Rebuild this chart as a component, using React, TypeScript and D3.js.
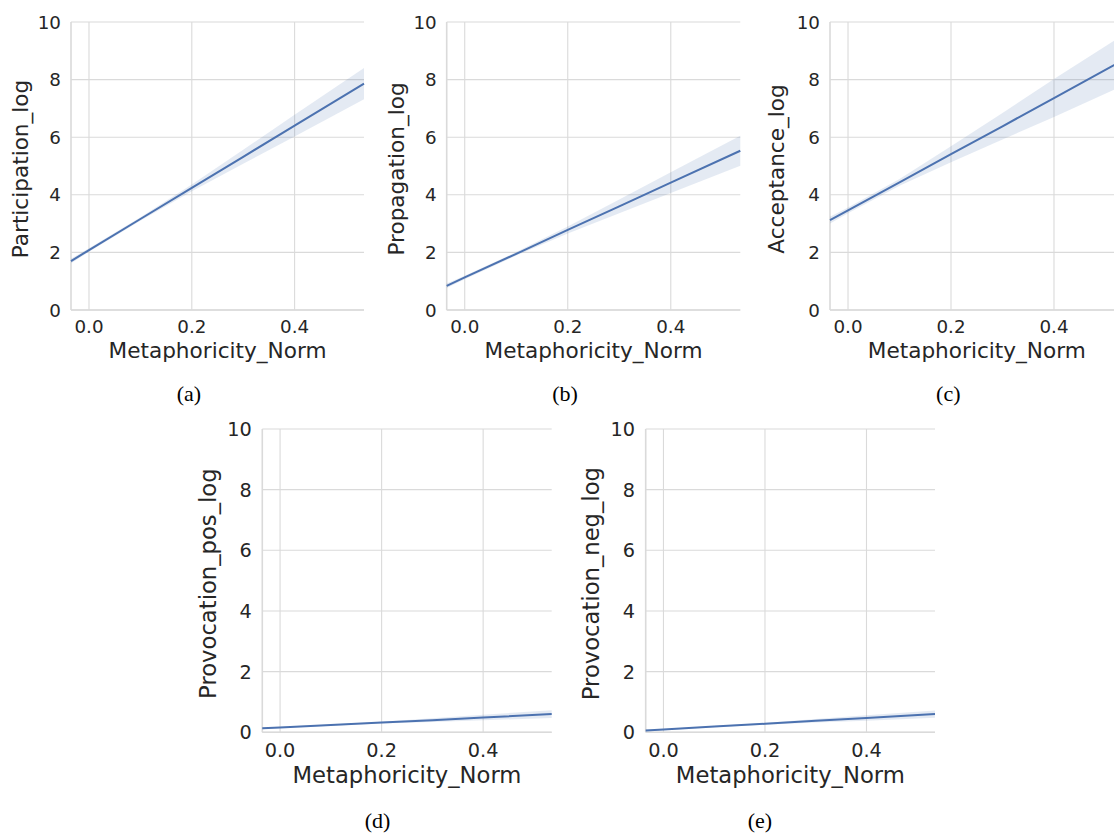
import React from 'react';
import * as d3 from 'd3';

// ---------- data ----------
const xPoints = [-0.035, 0.0, 0.1, 0.2, 0.3, 0.4, 0.535];
const xTicks = [0.0, 0.2, 0.4];
const yTicks = [0, 2, 4, 6, 8, 10];
const xDomain: [number, number] = [-0.035, 0.535];
const yDomain: [number, number] = [0, 10];
const xLabel = 'Metaphoricity_Norm';
const yLabels = ['Participation_log', 'Propagation_log', 'Acceptance_log', 'Provocation_pos_log', 'Provocation_neg_log'];
const captions = ['(a)', '(b)', '(c)', '(d)', '(e)'];

const participationFit = [1.70, 2.08, 3.16, 4.24, 5.32, 6.40, 7.86];
const participationHalfCI = [0.08, 0.06, 0.06, 0.12, 0.24, 0.38, 0.54];
const propagationFit = [0.84, 1.13, 1.95, 2.78, 3.60, 4.42, 5.53];
const propagationHalfCI = [0.08, 0.06, 0.06, 0.12, 0.24, 0.36, 0.52];
const acceptanceFit = [3.12, 3.46, 4.43, 5.41, 6.38, 7.36, 8.68];
const acceptanceHalfCI = [0.12, 0.10, 0.12, 0.28, 0.46, 0.66, 0.88];
const provPosFit = [0.13, 0.16, 0.24, 0.32, 0.40, 0.49, 0.60];
const provPosHalfCI = [0.03, 0.02, 0.02, 0.03, 0.06, 0.09, 0.13];
const provNegFit = [0.06, 0.09, 0.19, 0.28, 0.38, 0.47, 0.60];
const provNegHalfCI = [0.03, 0.02, 0.02, 0.03, 0.06, 0.09, 0.12];

const fits = [participationFit, propagationFit, acceptanceFit, provPosFit, provNegFit];
const halfCIs = [participationHalfCI, propagationHalfCI, acceptanceHalfCI, provPosHalfCI, provNegHalfCI];

// ---------- layout ----------
const layouts = [
  { left: 71, right: 364, top: 22, bottom: 310, tick: 18.3, label: 21.6, ylabOff: 42.6, capX: 189, capY: 401 },
  { left: 446.7, right: 740.3, top: 22, bottom: 310, tick: 18.3, label: 21.6, ylabOff: 42.7, capX: 565, capY: 401 },
  { left: 830, right: 1123.5, top: 22, bottom: 310, tick: 18.3, label: 21.6, ylabOff: 46, capX: 948.3, capY: 401 },
  { left: 262.3, right: 551.7, top: 429, bottom: 732.3, tick: 19.3, label: 22.7, ylabOff: 46.6, capX: 377.5, capY: 828 },
  { left: 645.7, right: 935, top: 429, bottom: 732.3, tick: 19.3, label: 22.7, ylabOff: 46.7, capX: 760, capY: 828 },
];

const BLUE = '#4c72b0';
const GRID = '#dadada';
const TEXT = '#262626';
const SANS = "'DejaVu Sans', sans-serif";

function Panel({ i }: { i: number }) {
  const L = layouts[i];
  const x = d3.scaleLinear().domain(xDomain).range([L.left, L.right]);
  const y = d3.scaleLinear().domain(yDomain).range([L.bottom, L.top]);
  const pts = xPoints.map((xv, k) => ({ x: xv, fit: fits[i][k], h: halfCIs[i][k] }));
  const area = d3
    .area<{ x: number; fit: number; h: number }>()
    .x((d) => x(d.x))
    .y0((d) => y(d.fit - d.h))
    .y1((d) => y(d.fit + d.h));
  const line = d3
    .line<{ x: number; fit: number; h: number }>()
    .x((d) => x(d.x))
    .y((d) => y(d.fit));
  const fx = d3.format('.1f');
  const scale = L.tick / 18.3;
  const midY = (L.top + L.bottom) / 2;
  return (
    <g>
      {yTicks.map((t) => (
        <line key={'gy' + t} x1={L.left} x2={L.right} y1={y(t)} y2={y(t)} stroke={GRID} strokeWidth={1.1} />
      ))}
      {xTicks.map((t) => (
        <line key={'gx' + t} x1={x(t)} x2={x(t)} y1={L.top} y2={L.bottom} stroke={GRID} strokeWidth={1.1} />
      ))}
      <line x1={L.left} x2={L.left} y1={L.top} y2={L.bottom} stroke={GRID} strokeWidth={1.6} />
      <line x1={L.left} x2={L.right} y1={L.bottom} y2={L.bottom} stroke={GRID} strokeWidth={1.6} />
      <path d={area(pts) || ''} fill={BLUE} fillOpacity={0.15} />
      <path d={line(pts) || ''} fill="none" stroke={BLUE} strokeWidth={2} />
      {yTicks.map((t) => (
        <text
          key={'ty' + t}
          x={L.left - 10 * scale}
          y={y(t)}
          dy="0.36em"
          textAnchor="end"
          fontFamily={SANS}
          fontSize={L.tick}
          fill={TEXT}
        >
          {String(t)}
        </text>
      ))}
      {xTicks.map((t) => (
        <text
          key={'tx' + t}
          x={x(t)}
          y={L.bottom + 23 * scale}
          textAnchor="middle"
          fontFamily={SANS}
          fontSize={L.tick}
          fill={TEXT}
        >
          {fx(t)}
        </text>
      ))}
      <text
        x={(L.left + L.right) / 2}
        y={L.bottom + 48 * scale}
        textAnchor="middle"
        fontFamily={SANS}
        fontSize={L.label}
        fill={TEXT}
      >
        {xLabel}
      </text>
      <text
        transform={`translate(${L.left - L.ylabOff},${midY + 3}) rotate(-90)`}
        textAnchor="middle"
        fontFamily={SANS}
        fontSize={L.label}
        fill={TEXT}
      >
        {yLabels[i]}
      </text>
      <text
        x={L.capX}
        y={L.capY}
        textAnchor="middle"
        fontFamily="'Liberation Serif', 'Times New Roman', serif"
        fontSize={22}
        fill="#000"
      >
        {captions[i]}
      </text>
    </g>
  );
}

export default function App() {
  return (
    <svg
      width={1114}
      height={836}
      viewBox="0 0 1114 836"
      style={{ position: 'absolute', left: 0, top: 0, background: '#fff', display: 'block' }}
    >
      <rect x={0} y={0} width={1114} height={836} fill="#fff" />
      {captions.map((_, i) => (
        <Panel key={i} i={i} />
      ))}
    </svg>
  );
}
